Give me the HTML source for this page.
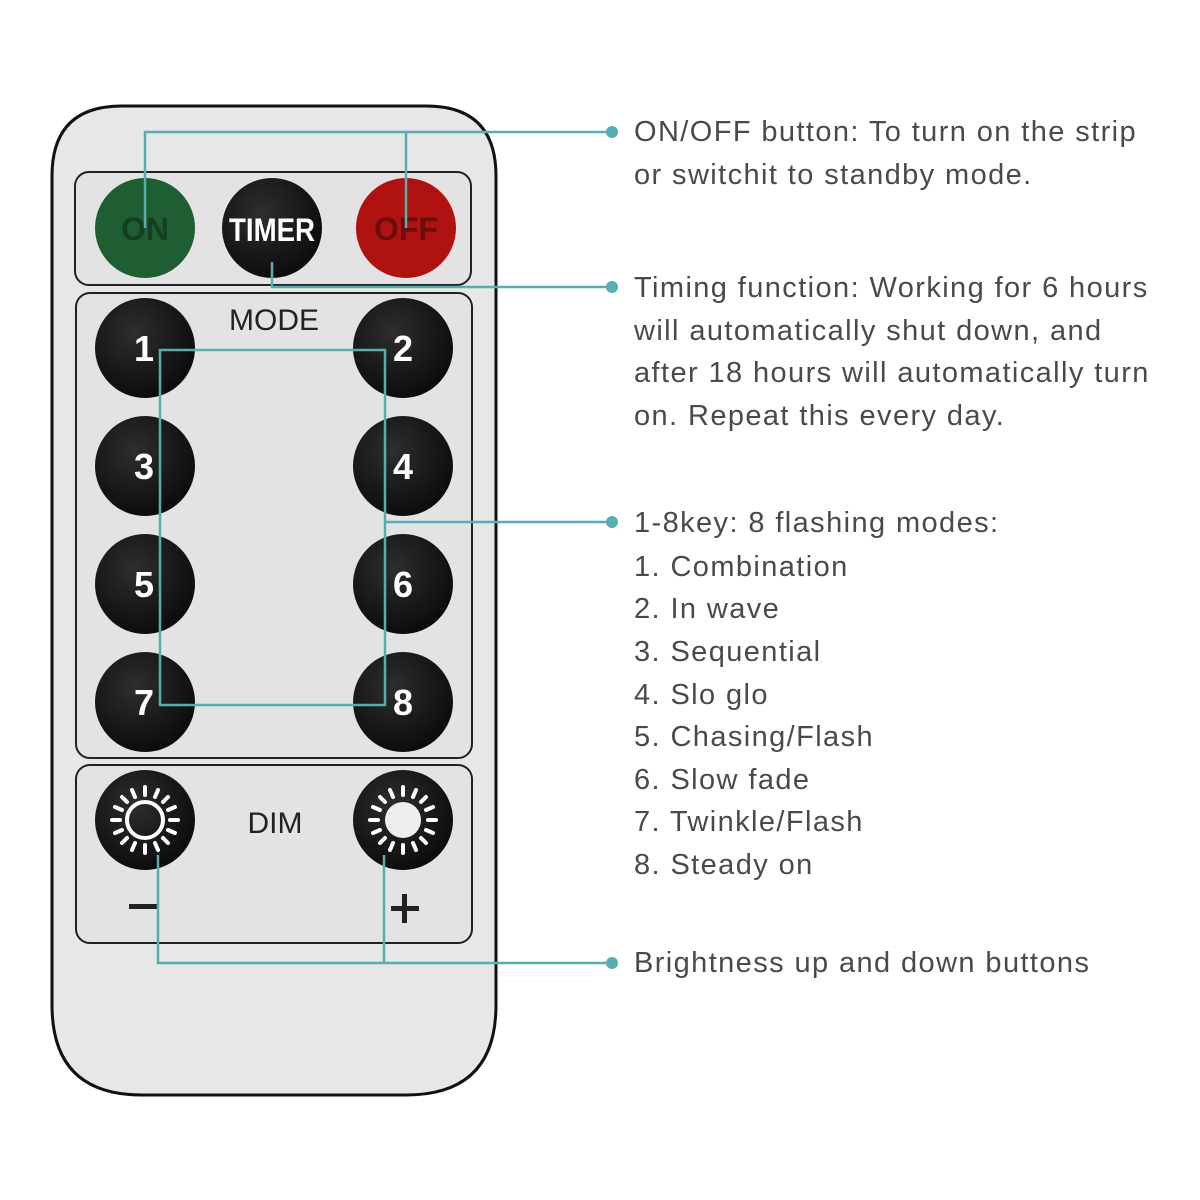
<!DOCTYPE html>
<html><head><style>
body{margin:0;background:#fff;width:1200px;height:1200px;overflow:hidden;font-family:"Liberation Sans",sans-serif}
.t{position:absolute;left:634px;font-size:29px;color:#4a4a4a;line-height:28px;white-space:nowrap;letter-spacing:1.4px}
</style></head><body>
<svg width="1200" height="1200" style="position:absolute;left:0;top:0">
<defs>
<radialGradient id="g" cx="0.4" cy="0.35" r="0.7"><stop offset="0" stop-color="#2e2e2e"/><stop offset="1" stop-color="#0a0a0a"/></radialGradient>
</defs>
<path d="M122,106 H426 Q496,106 496,176 V1005 Q496,1095 406,1095 H142 Q52,1095 52,1005 V176 Q52,106 122,106 Z" fill="#e7e7e7" stroke="#111" stroke-width="3"/>
<rect x="75" y="172" width="396" height="113" rx="14" fill="#e3e3e3" stroke="#222" stroke-width="2"/>
<rect x="76" y="293" width="396" height="465" rx="14" fill="#e3e3e3" stroke="#222" stroke-width="2"/>
<rect x="76" y="765" width="396" height="178" rx="14" fill="#e3e3e3" stroke="#222" stroke-width="2"/>
<circle cx="145" cy="228" r="50" fill="#1f5e33"/>
<circle cx="272" cy="228" r="50" fill="url(#g)"/>
<circle cx="406" cy="228" r="50" fill="#b0120f"/>
<text x="145" y="240" font-size="32" font-weight="bold" fill="#173d22" text-anchor="middle">ON</text>
<text x="272" y="241" font-size="32" font-weight="bold" fill="#fff" text-anchor="middle" textLength="86" lengthAdjust="spacingAndGlyphs">TIMER</text>
<text x="406" y="240" font-size="32" font-weight="bold" fill="#6a0d0b" text-anchor="middle">OFF</text>
<text x="274" y="330" font-size="30" fill="#222" text-anchor="middle">MODE</text>
<g fill="url(#g)">
<circle cx="145" cy="348" r="50"/><circle cx="403" cy="348" r="50"/>
<circle cx="145" cy="466" r="50"/><circle cx="403" cy="466" r="50"/>
<circle cx="145" cy="584" r="50"/><circle cx="403" cy="584" r="50"/>
<circle cx="145" cy="702" r="50"/><circle cx="403" cy="702" r="50"/>
<circle cx="145" cy="820" r="50"/><circle cx="403" cy="820" r="50"/>
</g>
<g font-size="36" font-weight="bold" fill="#fff" text-anchor="middle">
<text x="144" y="361">1</text><text x="403" y="361">2</text>
<text x="144" y="479">3</text><text x="403" y="479">4</text>
<text x="144" y="597">5</text><text x="403" y="597">6</text>
<text x="144" y="715">7</text><text x="403" y="715">8</text>
</g>
<text x="275" y="833" font-size="30" fill="#222" text-anchor="middle">DIM</text>
<g stroke="#fff" stroke-width="4" stroke-linecap="round">
<circle cx="145" cy="820" r="18" fill="none"/>
<circle cx="403" cy="820" r="18" fill="#eee" stroke="none"/>
<g id="rays">
<line x1="145" y1="795" x2="145" y2="787"/><line x1="145" y1="845" x2="145" y2="853"/>
<line x1="120" y1="820" x2="112" y2="820"/><line x1="170" y1="820" x2="178" y2="820"/>
<line x1="127" y1="802" x2="122" y2="797"/><line x1="163" y1="802" x2="168" y2="797"/>
<line x1="127" y1="838" x2="122" y2="843"/><line x1="163" y1="838" x2="168" y2="843"/>
<line x1="135" y1="797" x2="132" y2="790"/><line x1="155" y1="797" x2="158" y2="790"/>
<line x1="135" y1="843" x2="132" y2="850"/><line x1="155" y1="843" x2="158" y2="850"/>
<line x1="122" y1="810" x2="115" y2="807"/><line x1="168" y1="810" x2="175" y2="807"/>
<line x1="122" y1="830" x2="115" y2="833"/><line x1="168" y1="830" x2="175" y2="833"/>
</g>
<use href="#rays" x="258"/>
</g>
<rect x="129" y="904" width="28" height="5" fill="#222"/>
<rect x="391" y="906" width="28" height="5" fill="#222"/>
<rect x="402" y="894" width="5" height="29" fill="#222"/>
<g stroke="#56aeb3" stroke-width="2.5" fill="none">
<polyline points="145,228 145,132 612,132"/>
<line x1="406" y1="132" x2="406" y2="228"/>
<polyline points="272,262 272,287 612,287"/>
<rect x="160" y="350" width="225" height="355"/>
<line x1="385" y1="522" x2="612" y2="522"/>
<polyline points="158,855 158,963 612,963"/>
<line x1="384" y1="855" x2="384" y2="963"/>
</g>
<g fill="#56aeb3">
<circle cx="612" cy="132" r="6"/><circle cx="612" cy="287" r="6"/>
<circle cx="612" cy="522" r="6"/><circle cx="612" cy="963" r="6"/>
</g>
</svg>
<div class="t" style="top:118px">ON/OFF button: To turn on the strip</div>
<div class="t" style="top:161px">or switchit to standby mode.</div>
<div class="t" style="top:274px">Timing function: Working for 6 hours</div>
<div class="t" style="top:317px">will automatically shut down, and</div>
<div class="t" style="top:359px">after 18 hours will automatically turn</div>
<div class="t" style="top:402px">on. Repeat this every day.</div>
<div class="t" style="top:509px">1-8key: 8 flashing modes:</div>
<div class="t" style="top:553px">1. Combination</div>
<div class="t" style="top:595px">2. In wave</div>
<div class="t" style="top:638px">3. Sequential</div>
<div class="t" style="top:681px">4. Slo glo</div>
<div class="t" style="top:723px">5. Chasing/Flash</div>
<div class="t" style="top:766px">6. Slow fade</div>
<div class="t" style="top:808px">7. Twinkle/Flash</div>
<div class="t" style="top:851px">8. Steady on</div>
<div class="t" style="top:949px">Brightness up and down buttons</div>
</body></html>
